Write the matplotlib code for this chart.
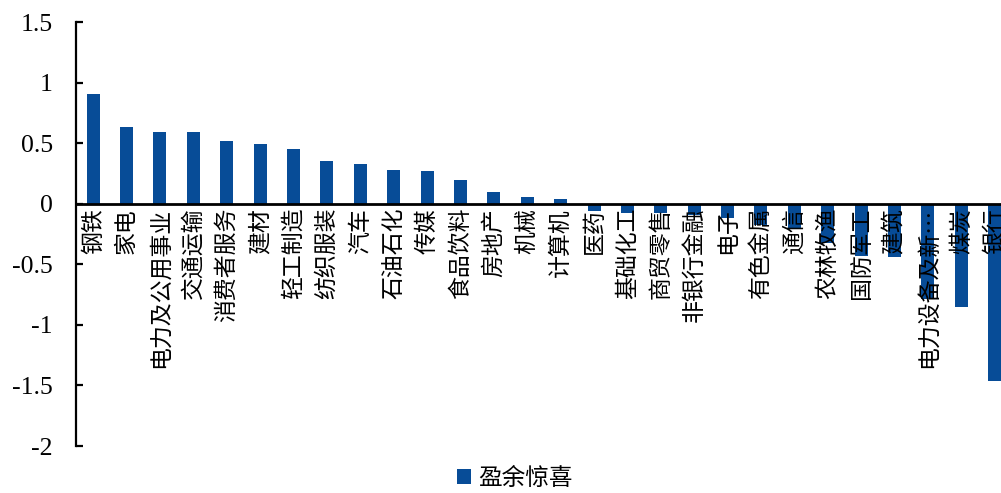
import matplotlib
matplotlib.use("Agg")
from matplotlib import pyplot as plt

# 各行业盈余惊喜
industries = ["钢铁", "家电", "电力及公用事业", "交通运输", "消费者服务", "建材", "轻工制造",
              "纺织服装", "汽车", "石油石化", "传媒", "食品饮料", "房地产", "机械", "计算机",
              "医药", "基础化工", "商贸零售", "非银行金融", "电子", "有色金属", "通信",
              "农林牧渔", "国防军工", "建筑", "电力设备及新…", "煤炭", "银行"]
surprise = [0.91, 0.63, 0.59, 0.59, 0.52, 0.49, 0.45,
            0.35, 0.33, 0.28, 0.27, 0.20, 0.10, 0.055, 0.036,
            -0.06, -0.075, -0.075, -0.097, -0.12, -0.175, -0.21,
            -0.32, -0.43, -0.44, -0.79, -0.85, -1.46]
yticks = [1.5, 1, 0.5, 0, -0.5, -1, -1.5, -2]
ytick_labels = ["1.5", "1", "0.5", "0", "-0.5", "-1", "-1.5", "-2"]

cjk = ["Noto Sans CJK SC", "DejaVu Sans"]
bar_color = "#074C97"

fig = plt.figure(figsize=(10.01, 4.93), dpi=100)
# 右侧最后一根柱子被截断
ax = fig.add_axes([0.0764, 0.0953, 0.934, 0.860])

x = list(range(len(industries)))
ax.bar(x, surprise, width=0.39, color=bar_color, label="盈余惊喜", zorder=1)
# 行业名称压在柱子上面
ax.set_axisbelow(False)

ax.set_xlim(-0.5, len(industries) - 0.5)
ax.set_ylim(-2, 1.5)

# 坐标轴样式
for side in ["top", "right"]:
    ax.spines[side].set_visible(False)
ax.spines["bottom"].set_position(("data", 0))
ax.spines["bottom"].set_linewidth(2)
ax.spines["left"].set_linewidth(1.6)
ax.spines["bottom"].set_zorder(3)

ax.set_yticks(yticks)
ax.set_yticklabels(ytick_labels, family="Liberation Serif", fontsize=18.5)
ax.tick_params(axis="y", direction="in", length=5, width=1.6, pad=17)

ax.set_xticks(x)
ax.set_xticklabels(industries, rotation=90, family=cjk, fontsize=16.5, va="top", ha="center")
ax.tick_params(axis="x", length=0, pad=3)

fig.legend(loc="center", bbox_to_anchor=(0.514, 0.03), frameon=False,
           prop={"family": cjk, "size": 17}, handlelength=0.6, handleheight=0.6,
           handletextpad=0.3)

fig.savefig("out.png", dpi=100)
